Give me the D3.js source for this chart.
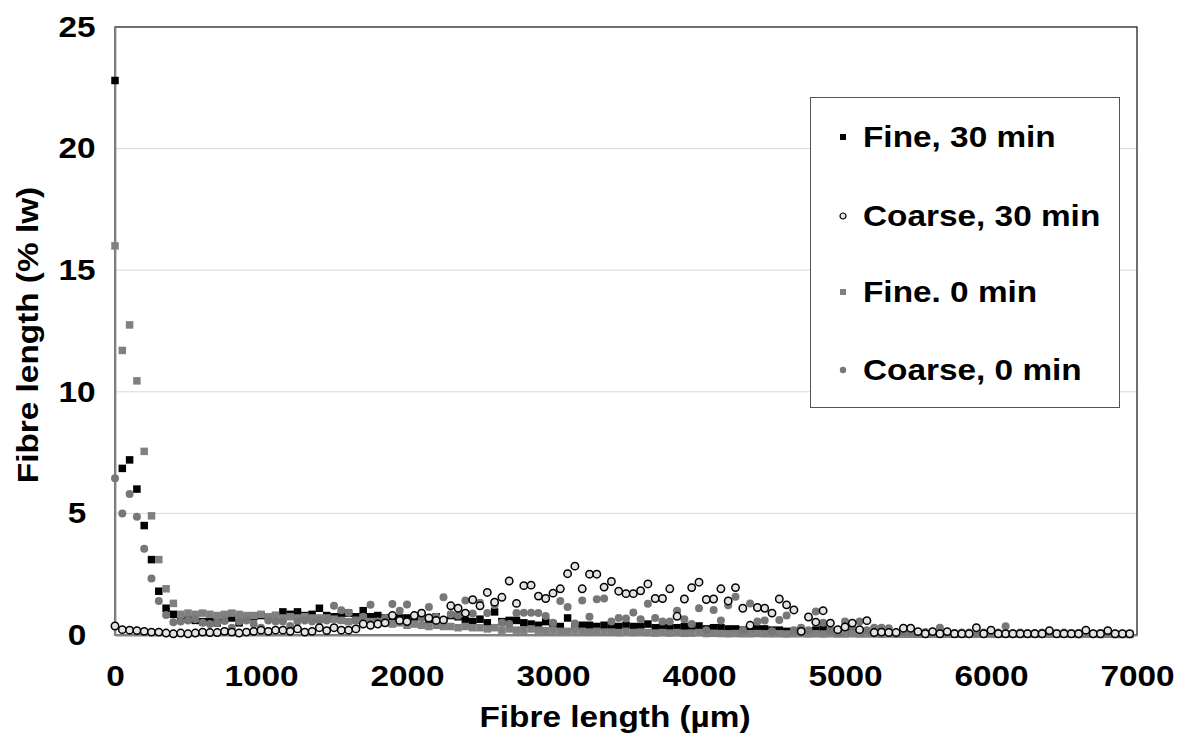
<!DOCTYPE html>
<html>
<head>
<meta charset="utf-8">
<script src="https://cdn.jsdelivr.net/npm/d3@7"></script>
<style>
  body { margin: 0; background: #fff; }
  text { font-family: "Liberation Sans", Arial, sans-serif; font-weight: bold; }
</style>
</head>
<body>
<div id="chart"></div>
<script>
// bins are every 50 µm from 0 to 6950
let bins = d3.range(0, 7000, 50);

let fine30 = [
  22.8, 6.85, 7.2, 6.0, 4.5, 3.1, 1.8, 1.1, 0.85, 0.7,
  0.65, 0.6, 0.55, 0.6, 0.5, 0.65, 0.7, 0.5, 0.7, 0.75,
  0.8, 0.75, 0.8, 0.95, 0.85, 0.95, 0.8, 0.85, 1.1, 0.8,
  0.75, 0.8, 0.9, 0.75, 1.0, 0.75, 0.8, 0.7, 0.75, 0.7,
  0.7, 0.65, 0.75, 0.6, 0.75, 0.55, 0.8, 0.75, 0.6, 0.55,
  0.65, 0.5, 0.95, 0.55, 0.6, 0.6, 0.5, 0.45, 0.4, 0.55,
  0.45, 0.35, 0.7, 0.35, 0.4, 0.4, 0.35, 0.4, 0.35, 0.35,
  0.4, 0.35, 0.35, 0.45, 0.3, 0.35, 0.3, 0.3, 0.35, 0.3,
  0.37, 0.25, 0.3, 0.3, 0.25, 0.25, 0.2, 0.25, 0.25, 0.25,
  0.2, 0.2, 0.15, 0.15, 0.2, 0.15, 0.2, 0.25, 0.15, 0.1,
  0.1, 0.08, 0.1, 0.08, 0.08, 0.05, 0.08, 0.05, 0.05, 0.06,
  0.05, 0.05, 0.04, 0.05, 0.05, 0.04, 0.05, 0.04, 0.05, 0.05,
  0.04, 0.04, 0.05, 0.04, 0.04, 0.05, 0.04, 0.04, 0.04, 0.05,
  0.04, 0.04, 0.04, 0.04, 0.03, 0.04, 0.04, 0.03, 0.03, 0.03
];

let coarse30 = [
  0.37, 0.22, 0.2, 0.18, 0.15, 0.12, 0.12, 0.08, 0.05, 0.08,
  0.05, 0.08, 0.12, 0.1, 0.1, 0.15, 0.12, 0.08, 0.12, 0.15,
  0.2, 0.15, 0.2, 0.2, 0.15, 0.25, 0.12, 0.15, 0.3, 0.18,
  0.3, 0.2, 0.2, 0.25, 0.45, 0.4, 0.45, 0.5, 0.8, 0.6,
  0.55, 0.8, 0.9, 0.7, 0.6, 0.62, 1.2, 1.1, 0.9, 1.45,
  1.2, 1.75, 1.35, 1.55, 2.22, 1.3, 2.03, 2.05, 1.6, 1.5,
  1.72, 1.9, 2.52, 2.83, 1.9, 2.5, 2.5, 1.97, 2.2, 1.8,
  1.7, 1.7, 1.82, 2.1, 1.5, 1.5, 1.9, 0.77, 1.48, 1.95,
  2.17, 1.46, 1.48, 1.9, 1.4, 1.95, 1.1, 0.4, 1.13, 1.1,
  0.9, 1.48, 1.24, 1.03, 0.15, 0.74, 0.53, 1.0, 0.49, 0.22,
  0.33, 0.49, 0.22, 0.59, 0.1, 0.12, 0.1, 0.1, 0.28, 0.28,
  0.14, 0.05, 0.14, 0.05, 0.14, 0.05, 0.05, 0.05, 0.3, 0.05,
  0.2, 0.05, 0.05, 0.05, 0.05, 0.05, 0.05, 0.05, 0.18, 0.05,
  0.05, 0.05, 0.05, 0.2, 0.05, 0.05, 0.18, 0.05, 0.05, 0.05
];

let fine0 = [
  16.0, 11.7, 12.75, 10.45, 7.55, 4.9, 3.1, 1.9, 1.3, 0.85,
  0.9, 0.85, 0.9, 0.85, 0.8, 0.85, 0.9, 0.85, 0.8, 0.8,
  0.85, 0.75, 0.8, 0.7, 0.75, 0.7, 0.75, 0.7, 0.7, 0.7,
  0.65, 0.6, 0.55, 0.6, 0.5, 0.55, 0.55, 0.5, 0.45, 0.5,
  0.4, 0.45, 0.4, 0.35, 0.4, 0.35, 0.35, 0.3, 0.35, 0.3,
  0.3, 0.25, 0.3, 0.2, 0.25, 0.2, 0.2, 0.25, 0.2, 0.18,
  0.2, 0.15, 0.15, 0.2, 0.15, 0.12, 0.15, 0.12, 0.12, 0.1,
  0.15, 0.1, 0.12, 0.1, 0.08, 0.1, 0.08, 0.1, 0.07, 0.08,
  0.1, 0.06, 0.07, 0.06, 0.05, 0.06, 0.05, 0.05, 0.06, 0.05,
  0.05, 0.05, 0.04, 0.05, 0.05, 0.04, 0.05, 0.04, 0.05, 0.04,
  0.04, 0.05, 0.04, 0.04, 0.04, 0.05, 0.04, 0.04, 0.04, 0.03,
  0.04, 0.04, 0.03, 0.04, 0.03, 0.04, 0.03, 0.03, 0.04, 0.03,
  0.03, 0.03, 0.04, 0.03, 0.03, 0.03, 0.03, 0.03, 0.03, 0.03,
  0.03, 0.03, 0.02, 0.03, 0.03, 0.02, 0.03, 0.02, 0.02, 0.02
];

let coarse0 = [
  6.45, 5.0, 5.8, 4.86, 3.55, 2.32, 1.4, 0.82, 0.52, 0.55,
  0.6, 0.65, 0.5, 0.45, 0.5, 0.58, 0.3, 0.55, 0.6, 0.45,
  0.3, 0.6, 0.55, 0.55, 0.37, 0.55, 0.6, 0.55, 0.6, 0.6,
  1.2, 1.02, 0.92, 0.6, 0.75, 1.24, 0.55, 0.7, 1.27, 1.0,
  1.25, 0.8, 0.7, 1.15, 0.75, 1.55, 0.85, 0.8, 1.42, 0.88,
  1.33, 0.9, 1.23, 0.5, 0.45, 0.9, 0.92, 0.92, 0.9, 0.78,
  0.5, 1.4, 1.15, 0.47, 1.42, 0.75, 1.47, 1.5, 0.55, 0.7,
  0.68, 0.93, 0.65, 1.28, 0.7, 0.55, 0.55, 1.0, 0.65, 0.45,
  1.1, 0.2, 1.03, 0.6, 1.22, 1.57, 0.2, 1.3, 0.55, 0.6,
  0.15, 0.62, 0.8, 0.2, 0.3, 0.2, 0.97, 0.5, 0.2, 0.1,
  0.55, 0.37, 0.55, 0.2, 0.3, 0.3, 0.28, 0.1, 0.12, 0.1,
  0.1, 0.12, 0.1, 0.3, 0.1, 0.08, 0.1, 0.1, 0.08, 0.1,
  0.08, 0.1, 0.36, 0.08, 0.1, 0.08, 0.08, 0.1, 0.08, 0.08,
  0.1, 0.08, 0.08, 0.08, 0.06, 0.08, 0.06, 0.06, 0.06, 0.05
];

let xTicks = [0, 1000, 2000, 3000, 4000, 5000, 6000, 7000];
let yTicks = [0, 5, 10, 15, 20, 25];
let legendNames = ["Fine, 30 min", "Coarse, 30 min", "Fine. 0 min", "Coarse, 0 min"];

let W = 1186, H = 738;
let plot = {left: 115, right: 1137, top: 27, bottom: 635};
let stretch = 1.15;   // the source text is a bit wider than Arial

let svg = d3.select('#chart').append('svg')
    .attr('width', W)
    .attr('height', H)
    .style('background', 'white');

let x = d3.scaleLinear().domain([0, 7000]).range([plot.left, plot.right]);
let y = d3.scaleLinear().domain([0, 25]).range([plot.bottom, plot.top]);

// gridlines
svg.append('g')
    .selectAll('line')
    .data(yTicks.filter(d => d > 0 && d < 25))
    .join('line')
    .attr('x1', plot.left).attr('x2', plot.right)
    .attr('y1', d => y(d)).attr('y2', d => y(d))
    .attr('stroke', '#d9d9d9')
    .attr('stroke-width', 1);

// plot border
svg.append('rect')
    .attr('x', plot.left).attr('y', plot.top)
    .attr('width', plot.right - plot.left)
    .attr('height', plot.bottom - plot.top)
    .attr('fill', 'none')
    .attr('stroke', '#222')
    .attr('stroke-width', 1.3);

// axes
let yAxis = svg.append('g')
    .attr('transform', 'translate(' + plot.left + ',0)')
    .call(d3.axisLeft(y).tickValues(yTicks).tickSize(0).tickPadding(0).tickFormat(d3.format('d')));
yAxis.select('.domain').attr('stroke', '#868686').attr('stroke-width', 1.8);
yAxis.selectAll('text')
    .attr('x', -38 / stretch)
    .attr('text-anchor', 'middle')
    .attr('transform', 'scale(' + stretch + ',1)')
    .style('font-size', '29px')
    .style('font-family', '"Liberation Sans", Arial, sans-serif')
    .style('font-weight', 'bold')
    .attr('fill', '#000');

let xAxis = svg.append('g')
    .attr('transform', 'translate(0,' + plot.bottom + ')')
    .call(d3.axisBottom(x).tickValues(xTicks).tickSize(0).tickPadding(30).tickFormat(d3.format('d')));
xAxis.select('.domain').attr('stroke', '#868686').attr('stroke-width', 1.8);
xAxis.selectAll('text')
    .attr('transform', 'scale(' + stretch + ',1)')
    .style('font-size', '29px')
    .style('font-family', '"Liberation Sans", Arial, sans-serif')
    .style('font-weight', 'bold')
    .attr('fill', '#000');

// axis titles
svg.append('text')
    .attr('text-anchor', 'middle')
    .attr('transform', 'translate(615,727) scale(' + stretch + ',1)')
    .style('font-size', '29px')
    .text('Fibre length (µm)');

svg.append('text')
    .attr('text-anchor', 'middle')
    .attr('transform', 'translate(38,335) rotate(-90) scale(' + stretch + ',1)')
    .style('font-size', '29px')
    .text('Fibre length (% lw)');

// series
let pts = arr => bins.map((b, i) => ({x: b, y: arr[i]}));
let sq = 7.5;

svg.append('g').selectAll('rect')
    .data(pts(fine30))
    .join('rect')
    .attr('x', d => x(d.x) - sq / 2)
    .attr('y', d => y(d.y) - sq / 2)
    .attr('width', sq).attr('height', sq)
    .attr('fill', '#000');

svg.append('g').selectAll('rect')
    .data(pts(fine0))
    .join('rect')
    .attr('x', d => x(d.x) - sq / 2)
    .attr('y', d => y(d.y) - sq / 2)
    .attr('width', sq).attr('height', sq)
    .attr('fill', '#808080');

svg.append('g').selectAll('circle')
    .data(pts(coarse0))
    .join('circle')
    .attr('cx', d => x(d.x))
    .attr('cy', d => y(d.y))
    .attr('r', 4)
    .attr('fill', '#777');

svg.append('g').selectAll('circle')
    .data(pts(coarse30))
    .join('circle')
    .attr('cx', d => x(d.x))
    .attr('cy', d => y(d.y))
    .attr('r', 3.7)
    .attr('fill', '#e3e3e3')
    .attr('stroke', '#000')
    .attr('stroke-width', 1.5);

// legend
let legend = svg.append('g');
legend.append('rect')
    .attr('x', 810.5).attr('y', 97.5)
    .attr('width', 309).attr('height', 310)
    .attr('fill', '#fff')
    .attr('stroke', '#555')
    .attr('stroke-width', 1);

let rowY = [137, 216, 292, 370];
let items = legend.selectAll('g')
    .data(legendNames)
    .join('g')
    .attr('transform', (d, i) => 'translate(843,' + rowY[i] + ')');

items.each(function(d, i) {
    let g = d3.select(this);
    if (i == 0 || i == 2) {
        g.append('rect')
            .attr('x', -3).attr('y', -3)
            .attr('width', 6).attr('height', 6)
            .attr('fill', i == 0 ? '#000' : '#808080');
    } else if (i == 1) {
        g.append('circle').attr('r', 3)
            .attr('fill', '#e3e3e3').attr('stroke', '#000').attr('stroke-width', 1.2);
    } else {
        g.append('circle').attr('r', 3.2).attr('fill', '#777');
    }
    g.append('text')
        .attr('transform', 'translate(20,10) scale(' + stretch + ',1)')
        .style('font-size', '29px')
        .text(d);
});
</script>
</body>
</html>
